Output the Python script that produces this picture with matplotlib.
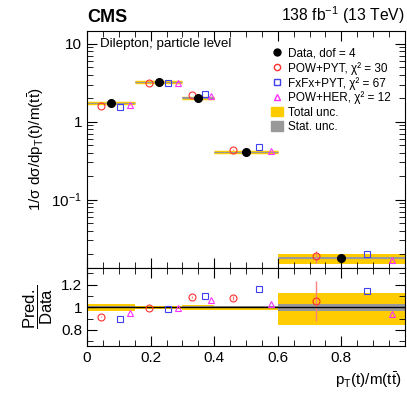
import numpy as np
import matplotlib
matplotlib.use('Agg')
import matplotlib.pyplot as plt
from matplotlib.lines import Line2D
from matplotlib.patches import Patch
from matplotlib.ticker import FixedLocator, MultipleLocator, FuncFormatter, NullFormatter, LogLocator

plt.rcParams['font.family'] = ['Liberation Sans', 'DejaVu Sans']
plt.rcParams['mathtext.fontset'] = 'custom'
plt.rcParams['mathtext.rm'] = 'Liberation Sans'
plt.rcParams['mathtext.it'] = 'Liberation Sans:italic'

# bins in pT(t)/m(tt)
edges = np.array([0.0, 0.15, 0.3, 0.4, 0.6, 1.0])
data = np.array([1.72, 3.2, 2.03, 0.405, 0.0177])

# relative uncertainties
tot_up = np.array([0.03, 0.012, 0.02, 0.01, 0.127])
tot_dn = np.array([0.03, 0.012, 0.02, 0.025, 0.157])
stat = np.array([0.008, 0.005, 0.008, 0.01, 0.033])

# prediction / data
ratio_pyt = np.array([0.917, 0.994, 1.089, 1.083, 1.056])
ratio_fxfx = np.array([0.896, 0.982, 1.103, 1.157, 1.145])
ratio_her = np.array([0.946, 0.994, 1.062, 1.03, 0.943])
err_pyt = np.array([0.004, 0.004, 0.006, 0.02, 0.18])

labels = ['Data, dof = 4', 'POW+PYT, χ² = 30', 'FxFx+PYT, χ² = 67',
          'POW+HER, χ² = 12', 'Total unc.', 'Stat. unc.']

yellow = '#ffcc00'
grey = '#999999'
c_pyt = '#ff3030'
c_fx = '#4040ee'
c_her = '#ff30ff'

lo, hi = edges[:-1], edges[1:]
w = hi - lo
xc = lo + 0.5 * w

fig = plt.figure(figsize=(4.07, 3.94), dpi=100)
ax = fig.add_axes([0.2138, 0.3198, 0.7812, 0.6015])
ax2 = fig.add_axes([0.2138, 0.1226, 0.7812, 0.1972], sharex=ax)

for i in range(len(data)):
    ax.hlines(data[i], lo[i], hi[i], color=yellow, lw=2.5, zorder=1)
    ax.fill_between([lo[i], hi[i]], data[i] * (1 - tot_dn[i]), data[i] * (1 + tot_up[i]),
                    color=yellow, lw=0, zorder=1)
    ax.hlines(data[i], lo[i], hi[i], color=grey, lw=0.8, zorder=2)
    ax.fill_between([lo[i], hi[i]], data[i] * (1 - stat[i]), data[i] * (1 + stat[i]),
                    color=grey, lw=0, zorder=2)
    ax2.fill_between([lo[i], hi[i]], 1 - tot_dn[i], 1 + tot_up[i], color=yellow, lw=0, zorder=1)
    ax2.fill_between([lo[i], hi[i]], 1 - stat[i], 1 + stat[i], color=grey, lw=0, zorder=2)

ax.plot(xc, data, 'o', color='black', ms=5.5, zorder=5, ls='none')

models = [(ratio_pyt, 0.3, c_pyt, 'o'), (ratio_fxfx, 0.7, c_fx, 's'), (ratio_her, 0.9, c_her, '^')]
for r, f, c, m in models:
    xp = lo + f * w
    ax.plot(xp, data * r, m, mfc='none', mec=c, ms=5, mew=0.8, ls='none', zorder=4)
    ax2.plot(xp, r, m, mfc='none', mec=c, ms=5, mew=0.8, ls='none', zorder=4)
xp = lo + 0.3 * w
ax.errorbar(xp, data * ratio_pyt, yerr=data * ratio_pyt * err_pyt, fmt='none',
            ecolor='#ff8080', elinewidth=1, zorder=3)
ax2.errorbar(xp, ratio_pyt, yerr=err_pyt, fmt='none', ecolor='#ff8080', elinewidth=1, zorder=3)
ax2.axhline(1, color='black', lw=1, zorder=3)

ax.set_yscale('log')
ax.set_ylim(0.0132, 14.6)
ax.set_xlim(0, 1.0)
ax2.set_ylim(0.66, 1.347)

ax.yaxis.set_major_locator(FixedLocator([0.1, 1, 10]))
ax.yaxis.set_major_formatter(FuncFormatter(lambda v, p: {0.1: r'$10^{-1}$', 1: '1', 10: '10'}.get(round(v, 3), '')))
ax.yaxis.set_minor_locator(LogLocator(subs=np.arange(2, 10)))
ax.yaxis.set_minor_formatter(NullFormatter())
ax.xaxis.set_major_locator(FixedLocator([0, 0.2, 0.4, 0.6, 0.8]))
ax.xaxis.set_major_formatter(FuncFormatter(lambda v, p: '%g' % v))
ax.xaxis.set_minor_locator(MultipleLocator(0.05))
plt.setp(ax.get_xticklabels(), visible=False)

ax2.yaxis.set_major_locator(FixedLocator([0.8, 1.0, 1.2]))
ax2.yaxis.set_major_formatter(FuncFormatter(lambda v, p: '%g' % v))
ax2.yaxis.set_minor_locator(MultipleLocator(0.1))

for a in (ax, ax2):
    a.tick_params(which='both', direction='in', top=True, right=True, labelsize=11)
    a.tick_params(which='major', length=7)
    a.tick_params(which='minor', length=4)

ax.set_ylabel(r'1/σ dσ/dp$_\mathrm{T}$(t)/m(t$\bar{\mathrm{t}}$)', fontsize=11)
ax2.set_ylabel(r'$\dfrac{\mathrm{Pred.}}{\mathrm{Data}}$', fontsize=12)
ax2.set_xlabel(r'p$_\mathrm{T}$(t)/m(t$\bar{\mathrm{t}}$)', fontsize=11)
ax2.xaxis.set_label_coords(0.99, -0.31)
ax2.xaxis.label.set_ha('right')
fig.align_ylabels([ax, ax2])

fig.text(0.2138, 0.935, 'CMS', fontsize=13, fontweight='bold', ha='left', va='bottom')
fig.text(0.995, 0.935, r'138 fb$^{-1}$ (13 TeV)', fontsize=11.3, ha='right', va='bottom')
ax.text(0.04, 0.945, 'Dilepton, particle level', transform=ax.transAxes, fontsize=9.6, va='center')

handles = [Line2D([], [], marker='o', color='black', ls='none', ms=5),
           Line2D([], [], marker='o', mfc='none', mec=c_pyt, ls='none', ms=4.5),
           Line2D([], [], marker='s', mfc='none', mec=c_fx, ls='none', ms=4.5),
           Line2D([], [], marker='^', mfc='none', mec=c_her, ls='none', ms=4.5),
           Patch(color=yellow), Patch(color=grey)]
ax.legend(handles, labels, loc='upper left', bbox_to_anchor=(0.58, 0.93), frameon=False,
          fontsize=8.5, handlelength=1.0, handleheight=0.9, handletextpad=0.4, labelspacing=0.18,
          borderaxespad=0.0, borderpad=0.0)

fig.savefig('out.png', dpi=100)
